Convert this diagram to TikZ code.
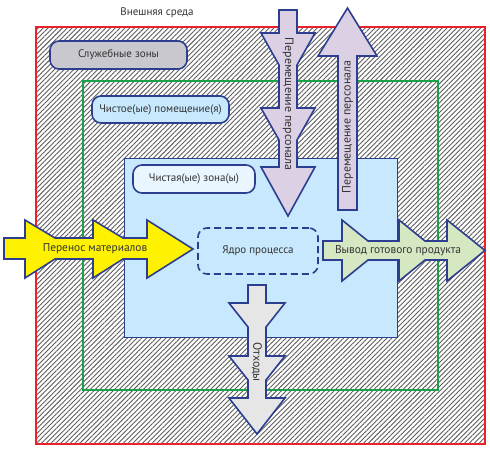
\documentclass[tikz,border=0pt]{standalone}
\usepackage{fontspec}
\setmainfont{PT Sans}
\usetikzlibrary{patterns.meta}
\definecolor{redline}{HTML}{E8212B}
\definecolor{greenline}{HTML}{1AA14A}
\definecolor{darkblue}{HTML}{2D3E91}
\definecolor{zonefill}{HTML}{C8E9FD}
\definecolor{zonelabel}{HTML}{E9F6FF}
\definecolor{graybox}{HTML}{C9C8CE}
\definecolor{hatch}{HTML}{5E5E5E}
\definecolor{purplefill}{HTML}{DCD1E4}
\definecolor{yellowfill}{HTML}{FFF200}
\definecolor{greenfill}{HTML}{D5E8C2}
\definecolor{grayfill}{HTML}{E6E6E6}
\definecolor{txt}{HTML}{333333}
\begin{document}
\begin{tikzpicture}[x=1pt,y=-1pt,
  labelbox/.style={draw=darkblue, line width=1.6pt, rounded corners=9pt, text=txt, font=\fontsize{11}{12}\selectfont, inner sep=0pt},
  arrowshape/.style={draw=darkblue, line width=1.6pt, line join=miter},
  arrowtext/.style={text=txt, font=\fontsize{11.4}{12}\selectfont, inner sep=0pt},
  vtext/.style={text=txt, font=\fontsize{12}{12}\selectfont, inner sep=0pt}]
\useasboundingbox (0,0) rectangle (490,451);
\fill[white] (0,0) rectangle (490,451);
% hatched zones
\fill[pattern={Lines[angle=45,distance=3.4pt,line width=0.9pt]}, pattern color=hatch] (36,27) rectangle (485,444);
\draw[redline, line width=2pt] (36,27) rectangle (485,444);
\draw[greenline, line width=2pt] (83,81) rectangle (438,390);
\filldraw[fill=zonefill, draw=darkblue, line width=0.8pt] (124,158) rectangle (397,337);
% labels
\node[text=txt, font=\fontsize{11}{12}\selectfont] (env) at (157,13) {Внешняя среда};
\node[labelbox, fill=graybox, minimum width=137pt, minimum height=28pt] (sluzh) at (118.5,55) {Служебные зоны};
\node[labelbox, fill=zonefill, minimum width=137pt, minimum height=27pt] (room) at (160.5,109.5) {Чистое(ые) помещение(я)};
\node[labelbox, fill=zonelabel, minimum width=122pt, minimum height=28pt] (zone) at (194,179) {Чистая(ые) зона(ы)};
\node[labelbox, draw=darkblue, dashed, dash pattern=on 7pt off 4pt, fill=zonefill, minimum width=120pt, minimum height=46pt] (core) at (258,251) {Ядро процесса};
% material in (yellow)
\draw[arrowshape, fill=yellowfill] (4,238) -- (25,238) -- (25,220) -- (55,238) -- (93,238) -- (93,220) -- (123,238) -- (147,238) -- (147,220) -- (193,249) -- (147,278) -- (147,259) -- (123,259) -- (93,278) -- (93,259) -- (55,259) -- (25,278) -- (25,259) -- (4,259) -- cycle;
\node[arrowtext] (matin) at (95,249) {Перенос материалов};
% product out (green)
\draw[arrowshape, fill=greenfill] (323,241) -- (342,241) -- (342,220) -- (368,241) -- (399,241) -- (399,220) -- (425,241) -- (447,241) -- (447,220) -- (485,250.5) -- (447,281) -- (447,260) -- (425,260) -- (399,281) -- (399,260) -- (368,260) -- (342,281) -- (342,260) -- (323,260) -- cycle;
\node[arrowtext] (prodout) at (398,251) {Вывод готового продукта};
% personnel in (purple, down)
\draw[arrowshape, fill=purplefill] (279,10) -- (297,10) -- (297,33) -- (315,33) -- (297,65) -- (297,108) -- (315,108) -- (297,140) -- (297,167) -- (315,167) -- (288,216) -- (261,167) -- (279,167) -- (279,140) -- (261,108) -- (279,108) -- (279,65) -- (261,33) -- (279,33) -- cycle;
\node[vtext, rotate=-90] (persin) at (288,104) {Перемещение персонала};
% personnel out (purple, up)
\draw[arrowshape, fill=purplefill] (338,210) -- (338,56) -- (318,56) -- (347.5,8) -- (377,56) -- (357,56) -- (357,210) -- cycle;
\node[vtext, rotate=90] (persout) at (347.5,127) {Перемещение персонала};
% waste (gray, down)
\draw[arrowshape, fill=grayfill] (248,285) -- (266,285) -- (266,303) -- (285,303) -- (266,327) -- (266,356) -- (285,356) -- (266,380) -- (266,398) -- (285,398) -- (257,434) -- (229,398) -- (248,398) -- (248,380) -- (229,356) -- (248,356) -- (248,327) -- (229,303) -- (248,303) -- cycle;
\node[vtext, rotate=-90] (waste) at (257,362) {Отходы};
\end{tikzpicture}
\end{document}
